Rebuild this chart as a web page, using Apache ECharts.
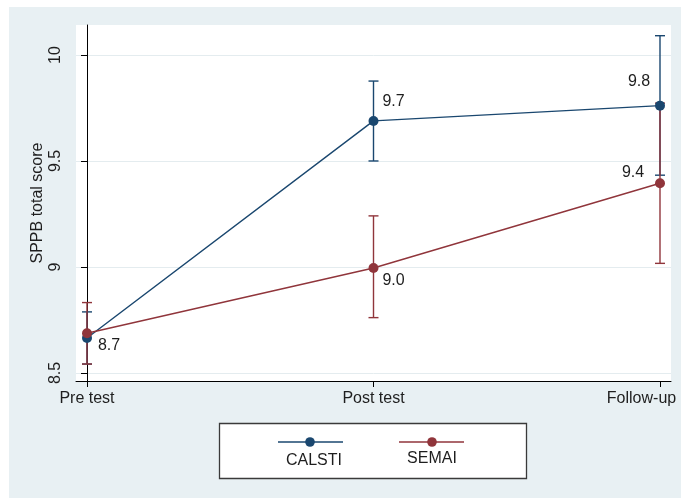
<!DOCTYPE html>
<html>
<head>
<meta charset="utf-8">
<script src="https://cdn.jsdelivr.net/npm/echarts@6/dist/echarts.min.js"></script>
<style>
  html, body { margin: 0; padding: 0; background: #ffffff; }
  #wrap { position: relative; width: 681px; height: 498px; }
  #bg { position: absolute; left: 9px; top: 7px; right: 0; bottom: 0; background: #e8f0f3; }
  #chart { position: absolute; left: 0; top: 0; width: 681px; height: 498px; }
</style>
</head>
<body>
<div id="wrap">
  <div id="bg"></div>
  <div id="chart"></div>
</div>
<script>
// Time points on the x axis
const timePoints = ['Pre test', 'Post test', 'Follow-up'];
const yTicks = [8.5, 9, 9.5, 10];

// Group means (SPPB total score)
const calstiMean = [8.665, 9.689, 9.761];
const semaiMean  = [8.687, 8.995, 9.395];

// 95% confidence limits
const calstiLow  = [8.542, 9.500, 9.433];
const calstiHigh = [8.788, 9.877, 10.091];
const semaiLow   = [8.542, 8.761, 9.017];
const semaiHigh  = [8.832, 9.241, 9.773];

const BLUE = '#1a476f';
const RED = '#90353b';
const TEXT = '#1e1e1e';
const FONT = 'Liberation Sans, Arial, sans-serif';

// Which point labels are printed, and where they sit relative to the marker
const calstiLabels = [{ show: true, offset: [22, 8] }, { show: true, offset: [20, -19] }, { show: true, offset: [-21, -24] }];
const semaiLabels  = [{ show: false }, { show: true, offset: [20, 13] }, { show: true, offset: [-27, -11] }];

function lineData(means, labels) {
  return means.map((v, i) => ({
    value: [i, v],
    label: Object.assign({
      position: 'inside',
      color: TEXT,
      fontSize: 16,
      fontFamily: FONT,
      formatter: p => p.value[1].toFixed(1)
    }, labels[i])
  }));
}

function ciData(low, high) {
  return low.map((l, i) => [i, l, high[i]]);
}

function ciSeries(name, low, high, color) {
  return {
    name: name,
    type: 'custom',
    data: ciData(low, high),
    z: 2,
    renderItem: function (params, api) {
      const x = api.value(0);
      const p1 = api.coord([x, api.value(1)]);
      const p2 = api.coord([x, api.value(2)]);
      const hw = 5;
      const st = { stroke: color, lineWidth: 1.4, fill: 'none' };
      return {
        type: 'group',
        children: [
          { type: 'line', shape: { x1: p1[0], y1: p1[1], x2: p2[0], y2: p2[1] }, style: st },
          { type: 'line', shape: { x1: p1[0] - hw, y1: p1[1], x2: p1[0] + hw, y2: p1[1] }, style: st },
          { type: 'line', shape: { x1: p2[0] - hw, y1: p2[1], x2: p2[0] + hw, y2: p2[1] }, style: st }
        ]
      };
    }
  };
}

function meanSeries(name, means, labels, color) {
  return {
    name: name,
    type: 'line',
    data: lineData(means, labels),
    symbol: 'circle',
    symbolSize: 10,
    z: 3,
    itemStyle: { color: color },
    lineStyle: { color: color, width: 1.4 },
    emphasis: { disabled: true },
    animation: false
  };
}

const chart = echarts.init(document.getElementById('chart'), null, { renderer: 'canvas' });

// Legend panel drawn under the plot
function legendItem(cx, lineX1, lineX2, textY, label, color) {
  return [
    { type: 'line', shape: { x1: lineX1, y1: 442, x2: lineX2, y2: 442 }, style: { stroke: color, lineWidth: 1.4 } },
    { type: 'circle', shape: { cx: cx, cy: 442, r: 4.8 }, style: { fill: color } },
    { type: 'text', x: cx + (label === 'CALSTI' ? 4 : 0), y: textY, style: { text: label, fill: TEXT, font: '16px ' + FONT, align: 'center', verticalAlign: 'middle' } }
  ];
}

chart.setOption({
  animation: false,
  grid: { left: 76, top: 25, right: 10, bottom: 117, show: true, backgroundColor: '#ffffff', borderWidth: 0 },
  xAxis: {
    type: 'value',
    min: -0.0384,
    max: 2.0384,
    axisLine: { show: true, lineStyle: { color: '#000', width: 1 } },
    axisTick: { show: true, length: 6, lineStyle: { color: '#000' }, customValues: [0, 1, 2] },
    axisLabel: {
      customValues: [0, 1, 2],
      margin: 10,
      color: TEXT,
      fontSize: 16,
      fontFamily: FONT,
      formatter: v => {
        const name = timePoints[Math.round(v)];
        return Math.round(v) === 2 ? '{f|' + name + '}' : name;
      },
      rich: { f: { fontSize: 16, fontFamily: FONT, color: TEXT, padding: [0, 37, 0, 0] } }
    },
    splitLine: { show: false }
  },
  yAxis: {
    type: 'value',
    min: 8.462,
    max: 10.1415,
    name: 'SPPB total score',
    nameLocation: 'middle',
    nameGap: 30,
    nameMoveOverlap: false,
    nameTextStyle: { color: TEXT, fontSize: 16, fontFamily: FONT },
    axisLine: { show: true, lineStyle: { color: '#000', width: 1 } },
    axisTick: { show: true, length: 6, lineStyle: { color: '#000' }, customValues: yTicks },
    axisLabel: {
      customValues: yTicks,
      rotate: 90,
      margin: 12,
      color: TEXT,
      fontSize: 16,
      fontFamily: FONT,
      formatter: v => String(v)
    },
    splitLine: { show: true, lineStyle: { color: '#e4ecef', width: 1 } }
  },
  series: [
    ciSeries('CALSTI CI', calstiLow, calstiHigh, BLUE),
    ciSeries('SEMAI CI', semaiLow, semaiHigh, RED),
    meanSeries('CALSTI', calstiMean, calstiLabels, BLUE),
    meanSeries('SEMAI', semaiMean, semaiLabels, RED)
  ],
  graphic: [
    { type: 'rect', shape: { x: 219.5, y: 423.5, width: 307, height: 55 }, style: { fill: '#ffffff', stroke: '#3a3a3a', lineWidth: 1.3 } }
  ].concat(
    legendItem(310, 278, 343, 461, 'CALSTI', BLUE),
    legendItem(432, 399, 464, 459, 'SEMAI', RED)
  )
});
</script>
</body>
</html>
